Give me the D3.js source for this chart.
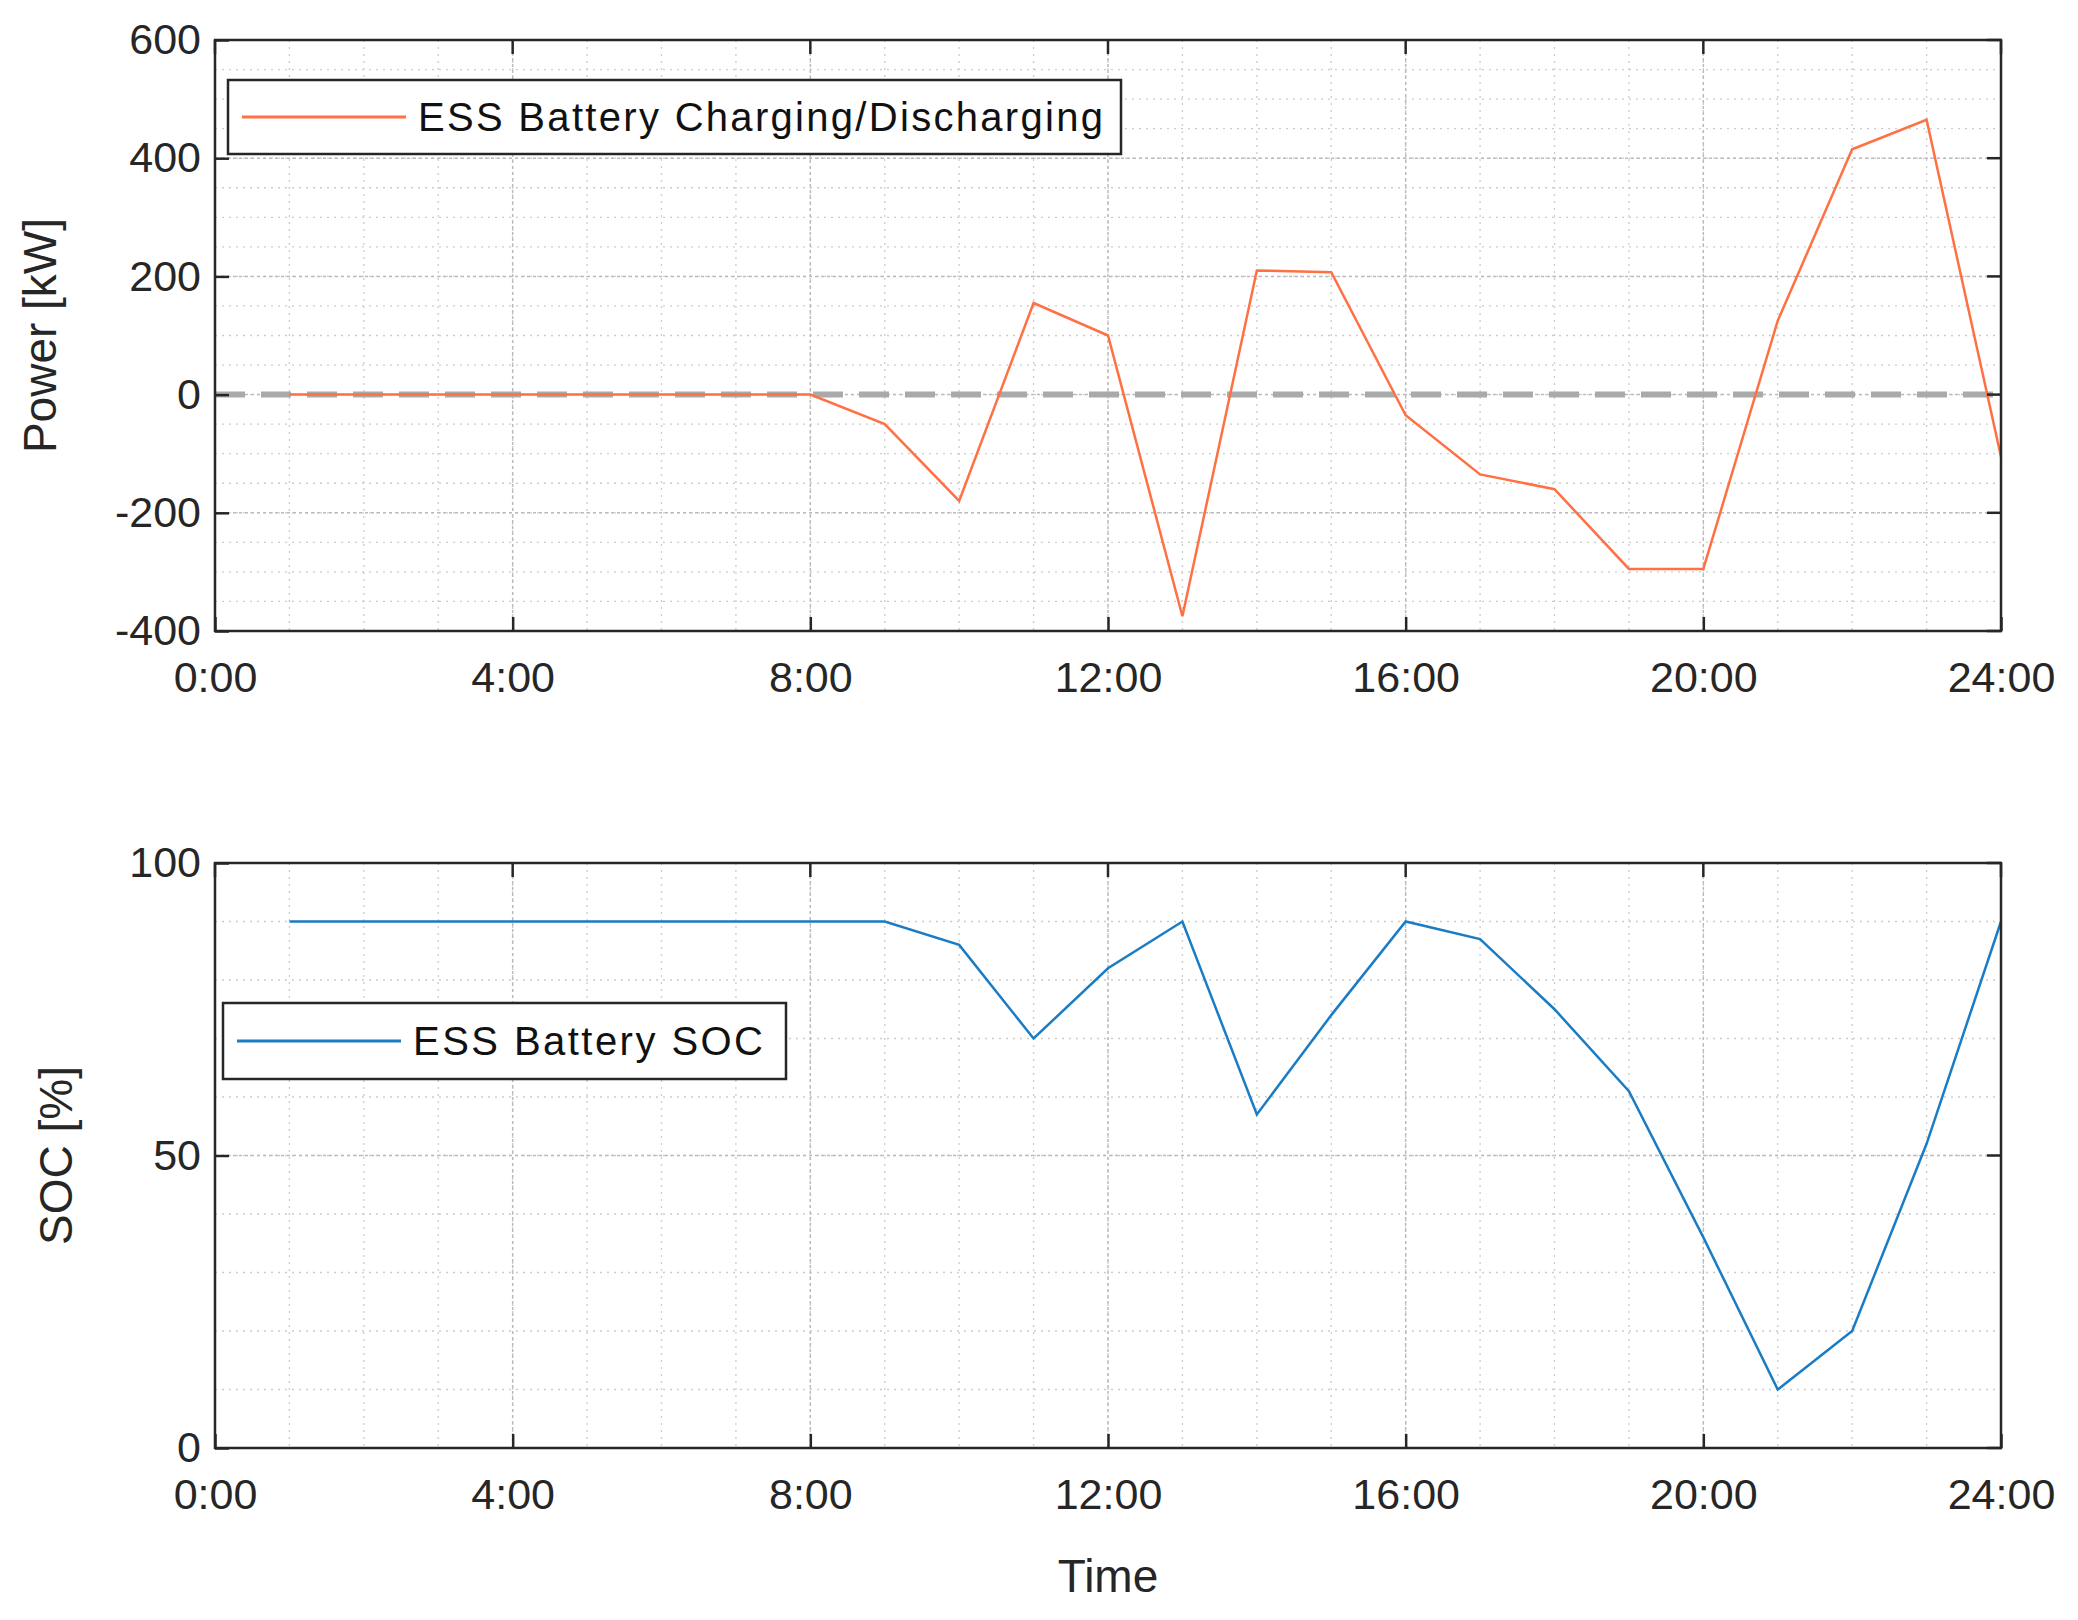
<!DOCTYPE html><html><head><meta charset="utf-8">
<script src="https://cdn.jsdelivr.net/npm/d3@7"></script>
<style>body{margin:0;background:#fff}text{font-family:"Liberation Sans",Arial,sans-serif}</style></head><body>
<svg id="c" width="2078" height="1620"></svg>
<script>
const hours=[1,2,3,4,5,6,7,8,9,10,11,12,13,14,15,16,17,18,19,20,21,22,23,24];
const power=[0,0,0,0,0,0,0,0,-50,-180,155,100,-375,210,207,-35,-135,-160,-295,-295,125,415,465,-105];
const soc=[90,90,90,90,90,90,90,90,90,86,70,82,90,57,74,90,87,75,61,36,10,20,52,90];
const xTicks=[0,4,8,12,16,20,24];
const xTickLabels=["0:00","4:00","8:00","12:00","16:00","20:00","24:00"];
const powerTicks=[-400,-200,0,200,400,600];
const socTicks=[0,50,100];
const svg=d3.select("#c");
const L=215,R=2001;
const x=d3.scaleLinear().domain([0,24]).range([L,R]);
function panel(top,bot,dom,ticks,minorStep,data,color,label,labelX,legend){
  const y=d3.scaleLinear().domain(dom).range([bot,top]);
  const g=svg.append("g");
  for(let h=0;h<=24;h++) g.append("line").attr("x1",x(h)).attr("x2",x(h)).attr("y1",top).attr("y2",bot).attr("stroke","#ccc").attr("stroke-width",1.3).attr("stroke-dasharray","2,5");
  for(let v=dom[0];v<=dom[1];v+=minorStep) g.append("line").attr("x1",L).attr("x2",R).attr("y1",y(v)).attr("y2",y(v)).attr("stroke","#ccc").attr("stroke-width",1.3).attr("stroke-dasharray","2,5");
  xTicks.forEach(t=>g.append("line").attr("x1",x(t)).attr("x2",x(t)).attr("y1",top).attr("y2",bot).attr("stroke","#bbb").attr("stroke-width",1.5).attr("stroke-dasharray","3,3"));
  ticks.forEach(t=>g.append("line").attr("x1",L).attr("x2",R).attr("y1",y(t)).attr("y2",y(t)).attr("stroke","#bbb").attr("stroke-width",1.5).attr("stroke-dasharray","3,3"));
  if(dom[0]<0) g.append("line").attr("x1",L).attr("x2",R).attr("y1",y(0)).attr("y2",y(0)).attr("stroke","#aaa").attr("stroke-width",6).attr("stroke-dasharray","30,16");
  g.append("path").datum(data).attr("fill","none").attr("stroke",color).attr("stroke-width",2.5)
    .attr("d",d3.line().x((d,i)=>x(hours[i])).y(d=>y(d)));
  g.append("rect").attr("x",L).attr("y",top).attr("width",R-L).attr("height",bot-top).attr("fill","none").attr("stroke","#262626").attr("stroke-width",2.5);
  const xa=g.append("g").attr("transform",`translate(0,${bot})`).call(d3.axisBottom(x).tickValues(xTicks).tickFormat((d,i)=>xTickLabels[i]).tickSizeInner(-14).tickSizeOuter(0).tickPadding(30));
  const ya=g.append("g").attr("transform",`translate(${L},0)`).call(d3.axisLeft(y).tickValues(ticks).tickFormat(d=>String(d)).tickSizeInner(-14).tickSizeOuter(0).tickPadding(14));
  [xa,ya].forEach(a=>{a.select(".domain").remove();a.selectAll("line").attr("stroke","#262626").attr("stroke-width",2.5);a.selectAll("text").attr("font-size",43).attr("fill","#262626").attr("font-family","Liberation Sans, Arial, sans-serif");});
  ticks.forEach(t=>g.append("line").attr("x1",R).attr("x2",R-14).attr("y1",y(t)).attr("y2",y(t)).attr("stroke","#262626").attr("stroke-width",2.5));
  xTicks.forEach(t=>g.append("line").attr("x1",x(t)).attr("x2",x(t)).attr("y1",top).attr("y2",top+14).attr("stroke","#262626").attr("stroke-width",2.5));
  g.append("text").attr("transform",`translate(${labelX},${(top+bot)/2}) rotate(-90)`).attr("text-anchor","middle").attr("font-size",46).attr("fill","#262626").text(label);
  const lg=g.append("g");
  lg.append("rect").attr("x",legend.x).attr("y",legend.y).attr("width",legend.w).attr("height",legend.h).attr("fill","#fff").attr("stroke","#262626").attr("stroke-width",2.5);
  lg.append("line").attr("x1",legend.x+14).attr("x2",legend.x+178).attr("y1",legend.y+legend.h/2).attr("y2",legend.y+legend.h/2).attr("stroke",color).attr("stroke-width",3);
  lg.append("text").attr("x",legend.x+190).attr("y",legend.y+legend.h/2+14).attr("font-size",40).attr("fill","#111").attr("textLength",legend.tl).text(legend.t);
}
panel(40,631,[-400,600],powerTicks,50,power,"#ff7043","Power [kW]",56,{x:228,y:80,w:893,h:74,t:"ESS Battery Charging/Discharging",tl:685});
panel(863,1448,[0,100],socTicks,10,soc,"#1a7cc4","SOC [%]",72,{x:223,y:1003,w:563,h:76,t:"ESS Battery SOC",tl:350});
svg.append("text").attr("x",x(12)).attr("y",1592).attr("text-anchor","middle").attr("font-size",46).attr("fill","#262626").text("Time");
</script></body></html>
